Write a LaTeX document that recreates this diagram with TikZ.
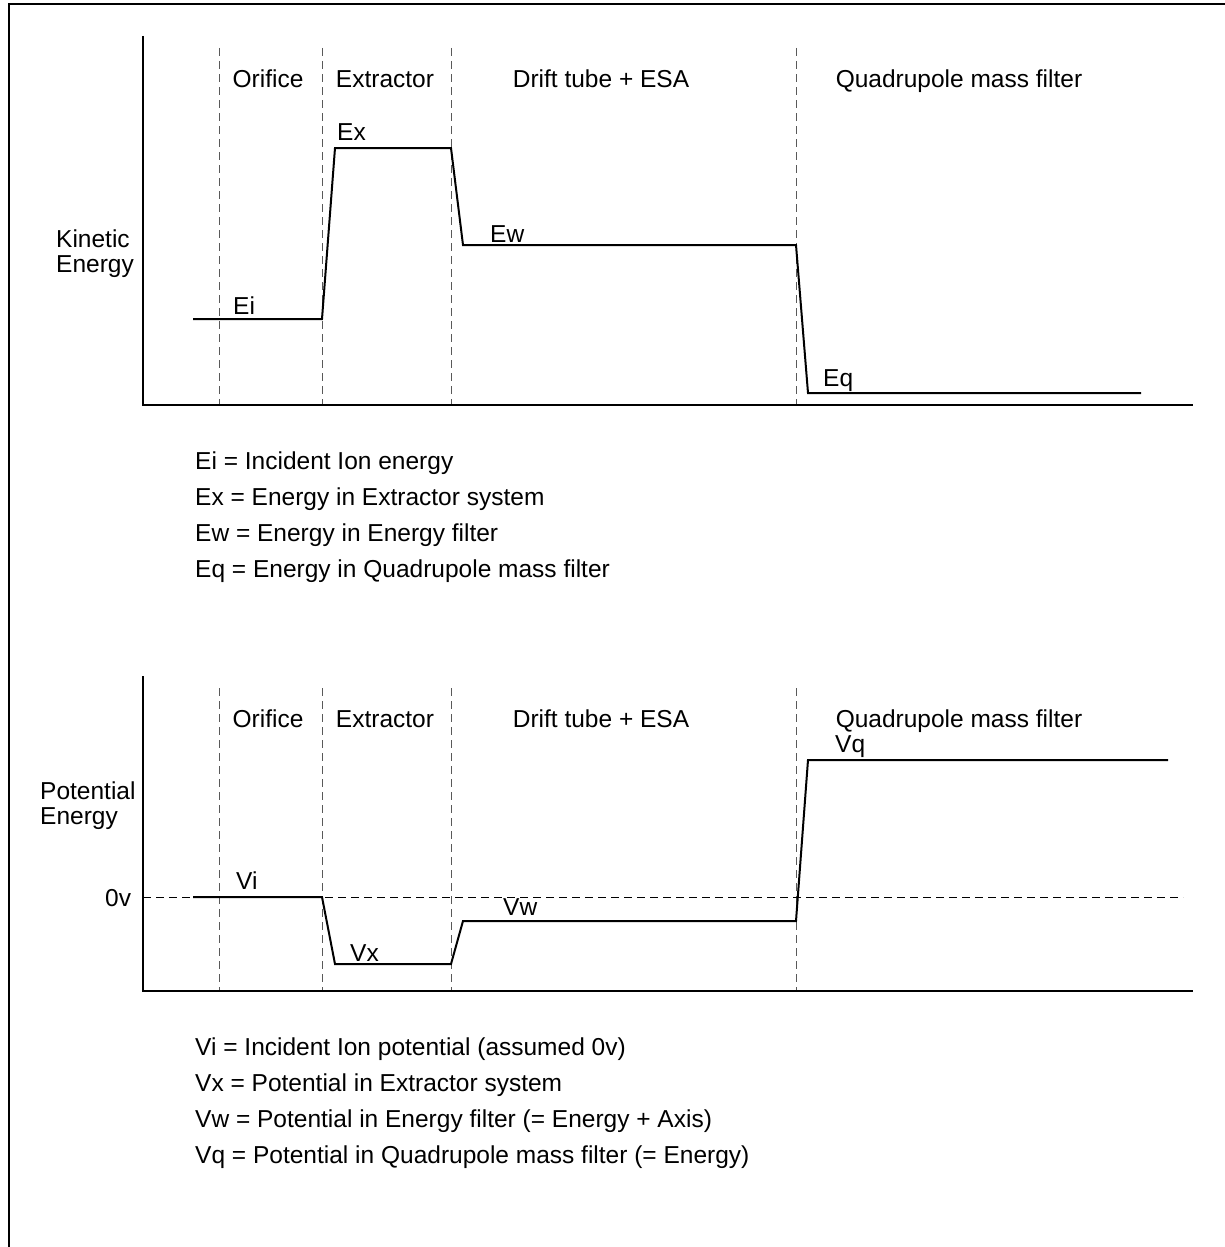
\documentclass[tikz,border=0pt]{standalone}
\usepackage{fontspec}
\setmainfont{Liberation Sans}
\begin{document}
\begin{tikzpicture}[x=1pt,y=-1pt,
  axis/.style={line width=2pt},
  curve/.style={line width=2pt, line join=miter},
  divider/.style={dash pattern=on 8pt off 5pt, line width=1pt, black!65},
  zeroline/.style={dash pattern=on 8pt off 5pt, line width=1pt},
  frameline/.style={line width=2.5pt},
  lbl/.style={font=\fontsize{24.5}{29}\selectfont, inner sep=0pt, anchor=base west},
  hdr/.style={font=\fontsize{24.5}{29}\selectfont, inner sep=0pt, anchor=base},
]
\useasboundingbox (0,0) rectangle (1225,1247);
% frame
\coordinate (fr-bl) at (9,1247);
\coordinate (fr-tl) at (9,4);
\coordinate (fr-tr) at (1225,4);
\draw[frameline] (fr-bl) -- (fr-tl) -- (fr-tr);

% ================= top chart =================
\coordinate (t-ytop) at (143,36);
\coordinate (t-o) at (143,405);
\coordinate (t-xend) at (1193,405);
\foreach \n/\x in {a/219,b/322,c/451,d/796}{
  \coordinate (t-d\n-top) at (\x,48);
  \coordinate (t-d\n-bot) at (\x,405);
  \draw[divider] (t-d\n-top) -- (t-d\n-bot);
}
\draw[axis] (t-ytop) -- (t-o) -- (t-xend);
\node[hdr] (t-h1) at (268,87) {Orifice};
\node[hdr] (t-h2) at (385,87) {Extractor};
\node[hdr] (t-h3) at (601,87) {Drift tube + ESA};
\node[hdr] (t-h4) at (959,87) {Quadrupole mass filter};
\node[lbl] (t-y1) at (56,247) {Kinetic};
\node[lbl] (t-y2) at (56,272) {Energy};
% curve
\coordinate (k1) at (193,319);
\coordinate (k2) at (322,319);
\coordinate (k3) at (335,148);
\coordinate (k4) at (451,148);
\coordinate (k5) at (463,245);
\coordinate (k6) at (796,245);
\coordinate (k7) at (808,393);
\coordinate (k8) at (1141,393);
\draw[curve] (k1) -- (k2) -- (k3) -- (k4) -- (k5) -- (k6) -- (k7) -- (k8);
\node[lbl] (l-ei) at (233,314) {Ei};
\node[lbl] (l-ex) at (337,140) {Ex};
\node[lbl] (l-ew) at (490,242) {Ew};
\node[lbl] (l-eq) at (823,386) {Eq};
% legend
\node[lbl] (g1) at (195,469) {Ei = Incident Ion energy};
\node[lbl] (g2) at (195,505) {Ex = Energy in Extractor system};
\node[lbl] (g3) at (195,541) {Ew = Energy in Energy filter};
\node[lbl] (g4) at (195,577) {Eq = Energy in Quadrupole mass filter};

% ================= bottom chart =================
\coordinate (b-ytop) at (143,676);
\coordinate (b-o) at (143,991);
\coordinate (b-xend) at (1193,991);
\foreach \n/\x in {a/219,b/322,c/451,d/796}{
  \coordinate (b-d\n-top) at (\x,688);
  \coordinate (b-d\n-bot) at (\x,991);
  \draw[divider] (b-d\n-top) -- (b-d\n-bot);
}
\coordinate (z0) at (143,897);
\coordinate (z1) at (1183,897);
\draw[zeroline] (z0) -- (z1);
\draw[axis] (b-ytop) -- (b-o) -- (b-xend);
\node[hdr] (b-h1) at (268,727) {Orifice};
\node[hdr] (b-h2) at (385,727) {Extractor};
\node[hdr] (b-h3) at (601,727) {Drift tube + ESA};
\node[hdr] (b-h4) at (959,727) {Quadrupole mass filter};
\node[lbl] (b-y1) at (40,799) {Potential};
\node[lbl] (b-y2) at (40,824) {Energy};
\node[lbl] (b-zero) at (105,906) {0v};
% curve
\coordinate (p1) at (193,897);
\coordinate (p2) at (322,897);
\coordinate (p3) at (335,964);
\coordinate (p4) at (451,964);
\coordinate (p5) at (463,921);
\coordinate (p6) at (796,921);
\coordinate (p7) at (808,760);
\coordinate (p8) at (1168,760);
\draw[curve] (p1) -- (p2) -- (p3) -- (p4) -- (p5) -- (p6) -- (p7) -- (p8);
\node[lbl] (l-vi) at (236,889) {Vi};
\node[lbl] (l-vx) at (350,961) {Vx};
\node[lbl] (l-vw) at (503,915) {Vw};
\node[lbl] (l-vq) at (835,752) {Vq};
% legend
\node[lbl] (h1) at (195,1055) {Vi = Incident Ion potential (assumed 0v)};
\node[lbl] (h2) at (195,1091) {Vx = Potential in Extractor system};
\node[lbl] (h3) at (195,1127) {Vw = Potential in Energy filter (= Energy + Axis)};
\node[lbl] (h4) at (195,1163) {Vq = Potential in Quadrupole mass filter (= Energy)};
\end{tikzpicture}
\end{document}
